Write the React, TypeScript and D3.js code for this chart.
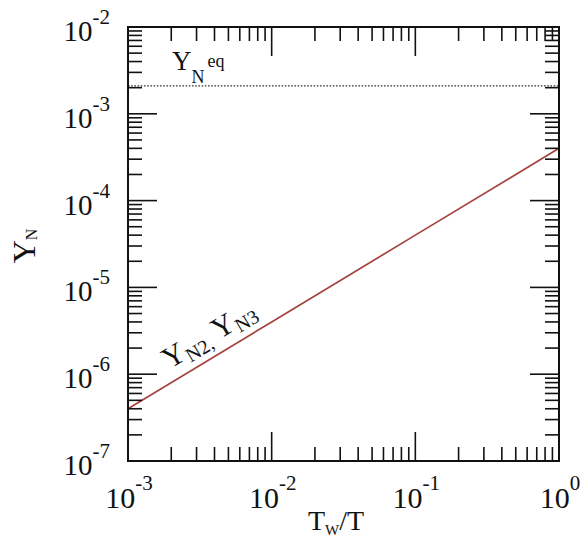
import React from "react";
import * as d3 from "d3";

// Abundance of N2/N3 states versus wall-to-gas temperature ratio
const tRatio = [1e-3, 1e-2, 1e-1, 1];
const yN23 = [4e-7, 4e-6, 4e-5, 4e-4];
const yEquilibrium = 2.1e-3;

const xDecades = [1e-3, 1e-2, 1e-1, 1];
const xDecadeExp = ["-3", "-2", "-1", "0"];
const yDecades = [1e-7, 1e-6, 1e-5, 1e-4, 1e-3, 1e-2];
const yDecadeExp = ["-7", "-6", "-5", "-4", "-3", "-2"];

const W = 581;
const H = 546;
const left = 128;
const right = 559;
const top = 27;
const bottom = 461;
const majorLen = 29;
const minorLen = 14;
const font = "'Liberation Serif', 'Times New Roman', serif";

function minorValues(decades: number[]): number[] {
  const out: number[] = [];
  for (let i = 0; i < decades.length - 1; i++) {
    for (let k = 2; k <= 9; k++) out.push(decades[i] * k);
  }
  return out;
}

export default function App() {
  const x = d3.scaleLog().domain([1e-3, 1]).range([left, right]);
  const y = d3.scaleLog().domain([1e-7, 1e-2]).range([bottom, top]);

  const line = d3
    .line<number>()
    .x((_, i) => x(tRatio[i]))
    .y((d) => y(d));

  const xMinor = minorValues(xDecades);
  const yMinor = minorValues(yDecades);

  // rotated label placed along the curve (straight in log-log pixel space)
  const x0 = x(tRatio[0]);
  const y0 = y(yN23[0]);
  const x1 = x(tRatio[tRatio.length - 1]);
  const y1 = y(yN23[yN23.length - 1]);
  const slope = (y1 - y0) / (x1 - x0);
  const lx = x(Math.pow(10, -2.62));
  const ly = y0 + (lx - x0) * slope;
  const angle = (Math.atan(slope) * 180) / Math.PI;

  const tickStroke = { stroke: "#111", strokeWidth: 1.6 };

  return (
    <svg
      width={W}
      height={H}
      style={{ position: "absolute", left: 0, top: 0, background: "#fff", fontFamily: font }}
    >
      <rect x={0} y={0} width={W} height={H} fill="#fff" />

      {/* equilibrium level */}
      <line
        x1={left}
        x2={right}
        y1={y(yEquilibrium)}
        y2={y(yEquilibrium)}
        stroke="#333"
        strokeWidth={1.3}
        strokeDasharray="1.6,1.6"
      />

      {/* N2, N3 curve */}
      <path d={line(yN23) || ""} fill="none" stroke="#a5423c" strokeWidth={1.7} />

      {/* bottom and top ticks */}
      {xDecades.map((v, i) => (
        <g key={"xM" + i}>
          <line x1={x(v)} x2={x(v)} y1={bottom} y2={bottom - majorLen} {...tickStroke} />
          <line x1={x(v)} x2={x(v)} y1={top} y2={top + majorLen} {...tickStroke} />
        </g>
      ))}
      {xMinor.map((v, i) => (
        <g key={"xm" + i}>
          <line x1={x(v)} x2={x(v)} y1={bottom} y2={bottom - minorLen} {...tickStroke} />
          <line x1={x(v)} x2={x(v)} y1={top} y2={top + minorLen} {...tickStroke} />
        </g>
      ))}

      {/* left and right ticks */}
      {yDecades.map((v, i) => (
        <g key={"yM" + i}>
          <line x1={left} x2={left + majorLen} y1={y(v)} y2={y(v)} {...tickStroke} />
          <line x1={right} x2={right - majorLen} y1={y(v)} y2={y(v)} {...tickStroke} />
        </g>
      ))}
      {yMinor.map((v, i) => (
        <g key={"ym" + i}>
          <line x1={left} x2={left + minorLen} y1={y(v)} y2={y(v)} {...tickStroke} />
          <line x1={right} x2={right - minorLen} y1={y(v)} y2={y(v)} {...tickStroke} />
        </g>
      ))}

      {/* frame */}
      <rect
        x={left}
        y={top}
        width={right - left}
        height={bottom - top}
        fill="none"
        stroke="#111"
        strokeWidth={2}
      />

      {/* x tick labels */}
      {xDecades.map((v, i) => (
        <text
          key={"xl" + i}
          x={x(v) + 1}
          y={508}
          textAnchor="middle"
          fontSize={30}
          fill="#111"
        >
          10
          <tspan fontSize={21} dy={-18}>
            {xDecadeExp[i]}
          </tspan>
        </text>
      ))}

      {/* y tick labels */}
      {yDecades.map((v, i) => (
        <text
          key={"yl" + i}
          x={110}
          y={y(v) + 14}
          textAnchor="end"
          fontSize={29}
          fill="#111"
        >
          10
          <tspan fontSize={21} dy={-17}>
            {yDecadeExp[i]}
          </tspan>
        </text>
      ))}

      {/* axis titles */}
      <text x={308} y={530} fontSize={28} fill="#111">
        T
        <tspan fontSize={15} dy={5}>
          W
        </tspan>
        <tspan dy={-5}>/T</tspan>
      </text>
      <text
        transform="translate(35,246) rotate(-90)"
        textAnchor="middle"
        fontSize={32}
        fill="#111"
      >
        Y
        <tspan fontSize={16} dy={2}>
          N
        </tspan>
      </text>

      {/* curve annotations */}
      <text x={172} y={70} fontSize={27} fill="#111">
        Y
        <tspan fontSize={18} dy={13}>
          N
        </tspan>
        <tspan fontSize={18} dy={-16} dx={3}>
          eq
        </tspan>
      </text>
      <text
        transform={`translate(${lx},${ly}) rotate(${angle})`}
        x={-8}
        y={-12}
        fontSize={30}
        fill="#111"
      >
        Y
        <tspan fontSize={20} dy={5}>
          N2,
        </tspan>
        <tspan fontSize={30} dy={-5}>
          {" "}Y
        </tspan>
        <tspan fontSize={20} dy={5}>
          N3
        </tspan>
      </text>
    </svg>
  );
}
